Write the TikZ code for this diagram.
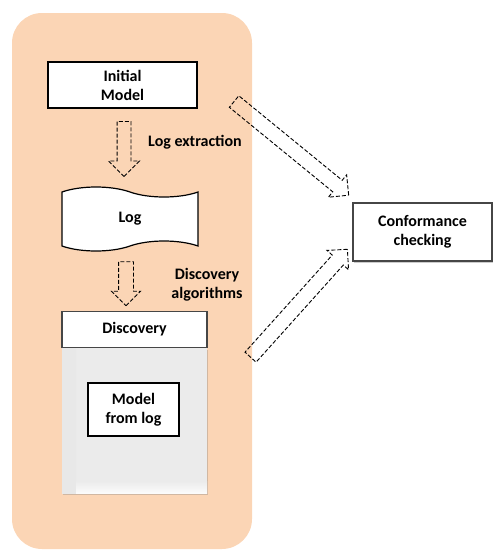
\documentclass[tikz,border=0pt]{standalone}
\usepackage{fontspec}
\setmainfont{Carlito}
\usetikzlibrary{positioning, shapes.symbols, shapes.arrows, shadows}
\definecolor{peach}{RGB}{251,213,181}
\definecolor{bodygray}{RGB}{235,235,235}
\definecolor{edgegray}{RGB}{70,70,70}
\tikzstyle{plainbox} = [rectangle, minimum width=149, minimum height=46, align=center, draw=black, line width=1.2pt, fill=white]
\tikzstyle{logtape} = [tape, tape bend top=out and in, tape bend bottom=in and out, tape bend height=10pt, minimum width=136, minimum height=64, draw=black, line width=1.2pt, fill=white]
\tikzstyle{header} = [rectangle, minimum width=145, minimum height=36, draw=edgegray, line width=1.2pt, fill=white]
\tikzstyle{bodybox} = [rectangle, minimum width=145, minimum height=145, fill=bodygray, drop shadow={shadow xshift=1pt, shadow yshift=-2pt, opacity=0.35},
  path picture={\shade[left color=gray!18, right color=bodygray] (path picture bounding box.north west) rectangle ([xshift=14pt]path picture bounding box.south west);
    \shade[top color=bodygray, bottom color=gray!3] ([xshift=14pt, yshift=12pt]path picture bounding box.south west) rectangle (path picture bounding box.south east);}]
\tikzstyle{confbox} = [rectangle, minimum width=139, minimum height=58, align=center, draw=edgegray, line width=1.2pt, fill=white, drop shadow={shadow xshift=1pt, shadow yshift=-2pt, opacity=0.4}]
\tikzstyle{blockarrow} = [single arrow, draw=black, line width=0.9pt, dash pattern=on 4pt off 2pt, inner xsep=0pt, single arrow tip angle=90, sloped, allow upside down]

\begin{document}
\begin{tikzpicture}[x=1pt, y=-1pt, font=\fontsize{16}{19}\selectfont\bfseries]
        \useasboundingbox (0,0) rectangle (494,550);
        \fill [peach, rounded corners=30pt] (12,13) rectangle (252,549);

        \node (init) [plainbox] at (122.5,85) {Initial\\Model};
        \node (log) [logtape] at (130,219) {Log};
        \node (discbody) [bodybox] at (134.5,420.5) {};
        \node (disc) [header, above=0pt of discbody] {Discovery};
        \node (model) [plainbox, minimum width=91, minimum height=53] at (133.5,409.5) {Model\\from log};
        \node (conf) [confbox] at (422.5,232) {Conformance\\checking};

        \node (extract) at (195,142) {Log extraction};
        \node (discalg) [align=center] at (207,285) {Discovery\\algorithms};

        \coordinate (extracttail) at (124,118);
        \coordinate (extracttip) at (124,173);
        \coordinate (discoverytail) at (126,258);
        \coordinate (discoverytip) at (126,302);
        \coordinate (inittail) at (231,99);
        \coordinate (inittip) at (346,193);
        \coordinate (modeltail) at (248,360);
        \coordinate (modeltip) at (345,252);

        \path (extracttail) -- (extracttip) node [blockarrow, midway, inner ysep=6.5pt, single arrow head extend=8.5pt, minimum height=55] {};
        \path (discoverytail) -- (discoverytip) node [blockarrow, midway, inner ysep=7pt, single arrow head extend=7pt, minimum height=44] {};
        \path (inittail) -- (inittip) node [blockarrow, midway, inner ysep=7pt, single arrow head extend=7pt, minimum height=148] {};
        \path (modeltail) -- (modeltip) node [blockarrow, midway, inner ysep=7pt, single arrow head extend=7pt, minimum height=145] {};

\end{tikzpicture}
\end{document}
